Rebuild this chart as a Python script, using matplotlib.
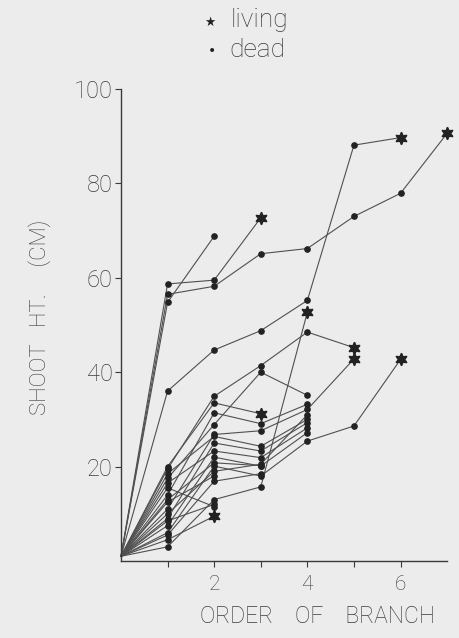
import matplotlib
matplotlib.use("Agg")
import matplotlib.pyplot as plt

# shoot height (cm) at each branch order, one list per shoot (order 0 = base)
# last point: living = True -> star, False -> dot
shoots = [
    [1, 58.7, 59.5, 72.7],
    [1, 56.5, 58.2, 65.1, 66.2, 73.0, 77.9, 90.6],
    [1, 54.8, 68.8],
    [1, 36.0, 44.7, 48.8, 55.2, 88.1, 89.7],
    [1, 19.5, 34.9, 41.4, 48.5, 45.2],
    [1, 17.5, 28.9, 40.0, 35.1],
    [1, 20.0, 33.5, 31.2],
    [1, 14.0, 31.4, 29.1, 33.2],
    [1, 11.0, 26.8, 27.6, 32.1, 42.8],
    [1, 18.5, 26.4, 24.3, 30.0],
    [1, 9.0, 25.0, 23.3, 29.3],
    [1, 16.5, 23.3, 21.9, 28.2],
    [1, 7.5, 22.0, 20.1, 27.2],
    [1, 13.0, 20.8, 20.2],
    [1, 6.0, 20.1, 18.0, 25.4, 28.6, 42.7],
    [1, 10.0, 19.0, 20.5, 31.0],
    [1, 15.5, 11.5],
    [1, 3.0, 13.0, 15.7, 52.7],
    [1, 4.5, 9.5],
    [1, 12.5, 18.0],
    [1, 5.5, 16.9, 18.5],
    [1, 8.5, 12.0],
]
living = [True, True, False, True, True, False, True, False, True, False,
          False, False, False, False, True, False, False, True, True,
          False, False, False]

y_ticks = [20, 40, 60, 80, 100]
x_ticks = [2, 4, 6]

ink = "#3a3a3a"
txt = "#3c3c3c"
font = "Roboto"

fig = plt.figure(figsize=(4.6, 6.38), dpi=100, facecolor="#ececec")
ax = fig.add_axes([0.263, 0.1207, 0.709, 0.7398])
ax.set_facecolor("#ececec")

for ys, alive in zip(shoots, living):
    xs = list(range(len(ys)))
    ax.plot(xs, ys, color="#505050", lw=0.8, clip_on=False, zorder=2)
    ax.plot(xs[1:-1], ys[1:-1], "o", color="#222222", ms=3.8, clip_on=False, zorder=3)
    if alive:
        ax.plot(xs[-1], ys[-1], marker=(6, 1, 0), color="#222222", ms=9,
                clip_on=False, zorder=4)
    else:
        ax.plot(xs[-1], ys[-1], "o", color="#222222", ms=3.8, clip_on=False, zorder=3)

ax.set_xlim(0, 7.0)
ax.set_ylim(0, 100)
for s in ["top", "right"]:
    ax.spines[s].set_visible(False)
for s in ["left", "bottom"]:
    ax.spines[s].set_color(ink)
    ax.spines[s].set_linewidth(1.0)

ax.set_yticks(y_ticks)
ax.set_yticklabels([str(v) for v in y_ticks])
ax.set_xticks(x_ticks)
ax.set_xticklabels([str(v) for v in x_ticks])
ax.set_xticks([1, 3, 5], minor=True)
ax.tick_params(axis="both", which="both", direction="out", length=4,
               width=0.8, color=ink)
ax.tick_params(axis="y", labelsize=17, labelcolor=txt, pad=2)
ax.tick_params(axis="x", labelsize=15, labelcolor=txt, pad=6)
for lab in ax.get_yticklabels() + ax.get_xticklabels():
    lab.set_family(font)
    lab.set_fontweight("light")

fig.text(0.087, 0.502, "SHOOT   HT.     (CM)", rotation=90, ha="center", va="center",
         fontsize=16, color=txt, family=font, fontweight="light")
fig.text(0.69, 0.033, "ORDER    OF    BRANCH", ha="center", va="center",
         fontsize=16.5, color=txt, family=font, fontweight="light")

# legend
fig.text(0.457, 0.965, "\u2605", ha="center", va="center", fontsize=9, color="#222222",
         family="DejaVu Sans")
fig.text(0.502, 0.968, "living", ha="left", va="center", fontsize=19, color=txt,
         family=font, fontweight="light")
fig.text(0.461, 0.920, "\u2022", ha="center", va="center", fontsize=10, color="#222222",
         family="DejaVu Sans")
fig.text(0.499, 0.922, "dead", ha="left", va="center", fontsize=19, color=txt,
         family=font, fontweight="light")

fig.savefig("out.png", dpi=100, facecolor=fig.get_facecolor())
